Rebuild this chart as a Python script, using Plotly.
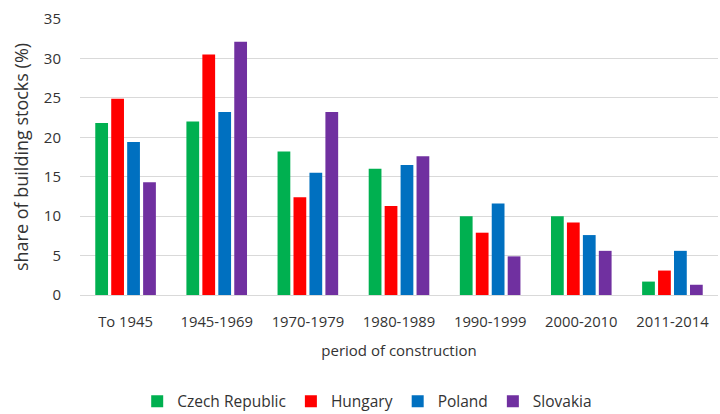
import plotly.graph_objects as go

# Share of building stock by construction period, four Central European countries
periods = ["To 1945", "1945-1969", "1970-1979", "1980-1989", "1990-1999", "2000-2010", "2011-2014"]
czech = [21.8, 22.0, 18.2, 16.0, 10.0, 10.0, 1.7]
hungary = [24.9, 30.5, 12.4, 11.3, 7.9, 9.2, 3.1]
poland = [19.4, 23.2, 15.5, 16.5, 11.6, 7.6, 5.6]
slovakia = [14.3, 32.1, 23.2, 17.6, 4.9, 5.6, 1.3]

series = [
    ("Czech Republic", czech, "#00b050"),
    ("Hungary", hungary, "#ff0000"),
    ("Poland", poland, "#0070c0"),
    ("Slovakia", slovakia, "#7030a0"),
]

font_family = "Open Sans, Liberation Sans, sans-serif"
text_color = "#333333"

fig = go.Figure()
for name, vals, color in series:
    fig.add_trace(go.Bar(x=periods, y=vals, name=name, marker=dict(color=color, line=dict(width=0))))

fig.update_layout(
    width=720,
    height=414,
    margin=dict(l=80, r=2, t=19, b=119, autoexpand=False),
    paper_bgcolor="white",
    plot_bgcolor="white",
    barmode="group",
    bargap=0.3,
    bargroupgap=0.2,
    font=dict(family=font_family, color=text_color, size=14),
    legend=dict(
        orientation="h",
        xref="container",
        x=0.51,
        xanchor="center",
        yref="container",
        y=0.03,
        yanchor="middle",
        font=dict(size=15.5, color=text_color),
        itemwidth=30,
        traceorder="normal",
    ),
    xaxis=dict(
        title=dict(text="period of construction", font=dict(size=15), standoff=15),
        tickfont=dict(size=14.8),
        showgrid=False,
        showline=False,
        ticks="",
        ticklabelstandoff=16,
    ),
    yaxis=dict(
        title=dict(text="share of building stocks (%)", font=dict(size=18), standoff=10),
        range=[0, 35],
        dtick=5,
        tickfont=dict(size=15),
        showgrid=True,
        gridcolor="#d9d9d9",
        gridwidth=1,
        zeroline=True,
        zerolinecolor="#d9d9d9",
        zerolinewidth=1,
        ticks="",
        ticklabelstandoff=18,
    ),
)

fig.write_html("out.html")
